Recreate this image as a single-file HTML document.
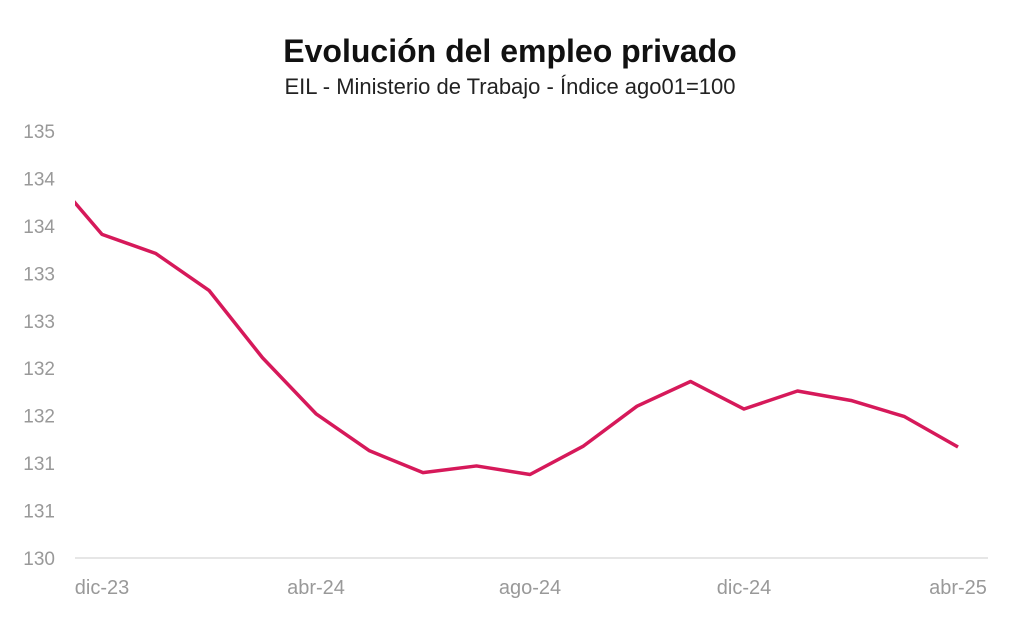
<!DOCTYPE html>
<html><head><meta charset="utf-8"><style>
body{margin:0;background:#fff;font-family:"Liberation Sans",sans-serif;}
</style></head><body>
<svg width="1020" height="631" xmlns="http://www.w3.org/2000/svg">
<defs><clipPath id="pc"><rect x="75" y="100" width="920" height="470"/></clipPath></defs>
<text x="510" y="62" text-anchor="middle" font-size="32" font-weight="bold" fill="#111">Evolución del empleo privado</text>
<text x="510" y="94" text-anchor="middle" font-size="22" fill="#222">EIL - Ministerio de Trabajo - Índice ago01=100</text>
<line x1="75" y1="558" x2="988" y2="558" stroke="#ddd" stroke-width="1.5"/>
<g id="yt"></g><g id="xt"></g>
<path id="ln" fill="none" stroke="#d6195a" stroke-width="3.5" stroke-linejoin="round" clip-path="url(#pc)"/>
</svg>
<script>
const categories=["nov-23","dic-23","ene-24","feb-24","mar-24","abr-24","may-24","jun-24","jul-24","ago-24","sep-24","oct-24","nov-24","dic-24","ene-25","feb-25","mar-25","abr-25"];
const values=[134.07,133.41,133.21,132.82,132.11,131.52,131.13,130.90,130.97,130.88,131.18,131.60,131.86,131.57,131.76,131.66,131.49,131.17];
const yTicks=[130,130.5,131,131.5,132,132.5,133,133.5,134,134.5];
const yTickLabels=["130","131","131","132","132","133","133","134","134","135"];
const xTickCats=["dic-23","abr-24","ago-24","dic-24","abr-25"];
const ns="http://www.w3.org/2000/svg";
const xS=i=>48.5+i*53.5;
const yS=v=>558-(v-130)*94.9;
const yt=document.getElementById('yt');
yTicks.forEach((t,i)=>{const e=document.createElementNS(ns,'text');
e.setAttribute('x',55);e.setAttribute('y',yS(t)+7);e.setAttribute('text-anchor','end');
e.setAttribute('font-size','19');e.setAttribute('fill','#999');e.textContent=yTickLabels[i];


yt.appendChild(e);});
const xt=document.getElementById('xt');
xTickCats.forEach(c=>{const i=categories.indexOf(c);const e=document.createElementNS(ns,'text');
e.setAttribute('x',xS(i));e.setAttribute('y',594);e.setAttribute('text-anchor','middle');
e.setAttribute('font-size','20');e.setAttribute('fill','#999');e.textContent=c;


xt.appendChild(e);});
document.getElementById('ln').setAttribute('d',values.map((v,i)=>(i?'L':'M')+xS(i)+','+yS(v)).join(' '));
</script>
</body></html>
